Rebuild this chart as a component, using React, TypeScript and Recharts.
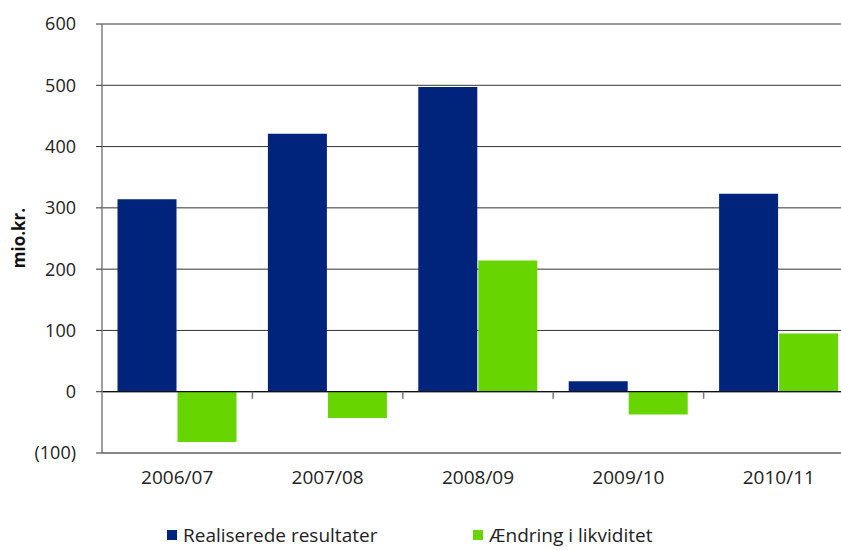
import {
  BarChart,
  Bar,
  XAxis,
  YAxis,
  CartesianGrid,
  ReferenceLine,
  Legend,
} from "recharts";

const years = ["2006/07", "2007/08", "2008/09", "2009/10", "2010/11"];
const realiserede = [314, 421, 497, 17, 323];
const likviditet = [-82, -43, 214, -37, 95];
const yTicks = [-100, 0, 100, 200, 300, 400, 500, 600];

const data = years.map((year, i) => ({
  year,
  realiserede: realiserede[i],
  likviditet: likviditet[i],
}));

const font = "'Open Sans', sans-serif";

const fmt = (v: number) => (v < 0 ? `(${-v})` : `${v}`);

// zero line with small marks between the categories
const ZeroLine = (props: any) => {
  const { x1, x2, y1 } = props;
  const step = (x2 - x1) / years.length;
  const marks = years.slice(1).map((_, i) => x1 + step * (i + 1));
  return (
    <g>
      <line x1={x1} x2={x2} y1={y1} y2={y1} stroke="#111" strokeWidth={1.2} />
      {marks.map((x) => (
        <line key={x} x1={x} x2={x} y1={y1} y2={y1 + 7} stroke="#777" strokeWidth={1.5} />
      ))}
    </g>
  );
};

const LegendContent = (props: any) => (
  <div
    style={{
      display: "flex",
      justifyContent: "flex-start",
      alignItems: "center",
      paddingLeft: 167,
      fontFamily: font,
      fontSize: 19,
      color: "#222",
      height: 30,
    }}
  >
    {props.payload.map((p: any, i: number) => (
      <div
        key={p.value}
        style={{ display: "flex", alignItems: "center", width: i === 0 ? 306 : "auto" }}
      >
        <span
          style={{ width: 10, height: 10, background: p.color, display: "inline-block", marginRight: 6 }}
        />
        {p.value}
      </div>
    ))}
  </div>
);

export default function App() {
  return (
    <div style={{ position: "absolute", left: 0, top: 0, width: 841, height: 550, overflow: "hidden", background: "#fff" }}>
      <BarChart
        width={854}
        height={550}
        data={data}
        margin={{ top: 24, right: 0, bottom: 0, left: 0 }}
        barCategoryGap={15.5}
        barGap={1}
      >
        <CartesianGrid vertical={false} stroke="#333" />
        <XAxis
          dataKey="year"
          height={67}
          tickLine={false}
          tickSize={6}
          tickMargin={12}
          axisLine={{ stroke: "#808080", strokeWidth: 1.5 }}
          tick={{ fill: "#222", fontSize: 19, fontFamily: font }}
        />
        <YAxis
          width={102}
          domain={[-100, 600]}
          ticks={yTicks}
          tickFormatter={fmt}
          tickSize={6}
          tickMargin={20}
          tickLine={{ stroke: "#333" }}
          axisLine={{ stroke: "#808080", strokeWidth: 1.5 }}
          tick={{ fill: "#222", fontSize: 18, fontFamily: font }}
          label={{
            content: () => (
              <text
                x={18}
                y={238}
                transform="rotate(-90 18 238)"
                textAnchor="middle"
                dominantBaseline="central"
                fontFamily={font}
                fontWeight="bold"
                fontSize={17}
                fill="#111"
              >
                mio.kr.
              </text>
            ),
          }}
        />
        <Bar dataKey="realiserede" name="Realiserede resultater" fill="#00237B" isAnimationActive={false} />
        <Bar dataKey="likviditet" name="Ændring i likviditet" fill="#66D500" isAnimationActive={false} />
        <ReferenceLine y={0} shape={ZeroLine} />
        <Legend verticalAlign="bottom" height={30} content={LegendContent} />
      </BarChart>
    </div>
  );
}
